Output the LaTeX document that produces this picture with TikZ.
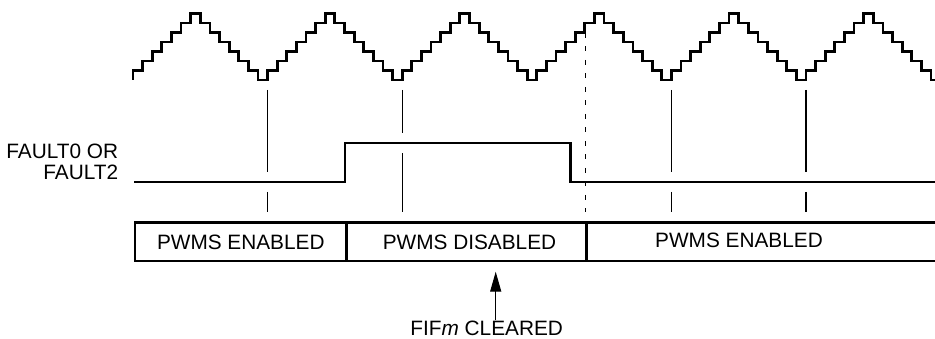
\documentclass[tikz,border=0pt]{standalone}
\usepackage{fontspec}
\setmainfont{Liberation Sans}
\usetikzlibrary{arrows.meta}
\tikzset{
  wave/.style={line width=2.8pt, line join=miter},
  sig/.style={line width=2.4pt, line join=miter},
  tick/.style={line width=1.1pt},
  boxline/.style={line width=2.3pt},
  divider/.style={line width=3pt},
  dashline/.style={line width=1.3pt, dash pattern=on 5pt off 8.5pt},
  lbl/.style={font=\fontsize{20.8}{25}\selectfont, inner sep=0pt},
}
\begin{document}
\begin{tikzpicture}[x=1pt,y=-1pt]
\useasboundingbox (0,0) rectangle (935,339);
% staircase waveform
\begin{scope}
\clip (0,0) rectangle (935,339);
\draw[wave] (133,80)
  \foreach \k in {1,...,6}{
    \foreach \j in {1,...,7}{ -- ++(0,-9.5) -- ++(9.614,0) }
    \foreach \j in {1,...,7}{ -- ++(0,9.5) -- ++(9.614,0) }
  };
\end{scope}
% tick lines
\foreach \x/\lev in {267.6/182, 402.4/143.3, 671.4/182, 806/182}{
  \draw[tick] (\x,90) -- (\x,\lev-10);
  \draw[tick] (\x,\lev+10) -- (\x,212);
}
% fault signal
\coordinate (f0) at (134,182);
\coordinate (frise) at (345,182);
\coordinate (ffall) at (570.5,143.3);
\coordinate (fend) at (935,182);
\draw[sig] (f0) -- (frise) -- (345,143.3) -- (ffall) -- (570.5,182) -- (fend);
\node[lbl, anchor=base east] (fa) at (118.3,158.3) {FAULT0 OR};
\node[lbl, anchor=base east] (fb) at (118.3,179.3) {FAULT2};
% dashed marker
\draw[dashline] (585.7,33) -- (585.7,212);
% state boxes
\draw[boxline] (586,222.5) -- (135,222.5) -- (135,261) -- (586,261);
\draw[boxline] (586,222.5) -- (936,222.5);
\draw[boxline] (586,261) -- (936,261);
\draw[divider] (346.5,222.5) -- (346.5,261);
\draw[divider] (586,222.5) -- (586,261);
\node[lbl, anchor=base] (en1) at (240.8,250) {PWMS ENABLED};
\node[lbl, anchor=base] (dis) at (469.5,250) {PWMS DISABLED};
\node[lbl, anchor=base] (en2) at (739,247.6) {PWMS ENABLED};
% FIFm cleared arrow
\node[lbl, anchor=base] (fif) at (486.7,335) {FIF\textit{m} CLEARED};
\coordinate (tip) at (495.7,271.7);
\draw[line width=1.3pt, -{Triangle[length=20pt,width=11pt]}] (fif.north -| tip) -- (tip);
\end{tikzpicture}
\end{document}
